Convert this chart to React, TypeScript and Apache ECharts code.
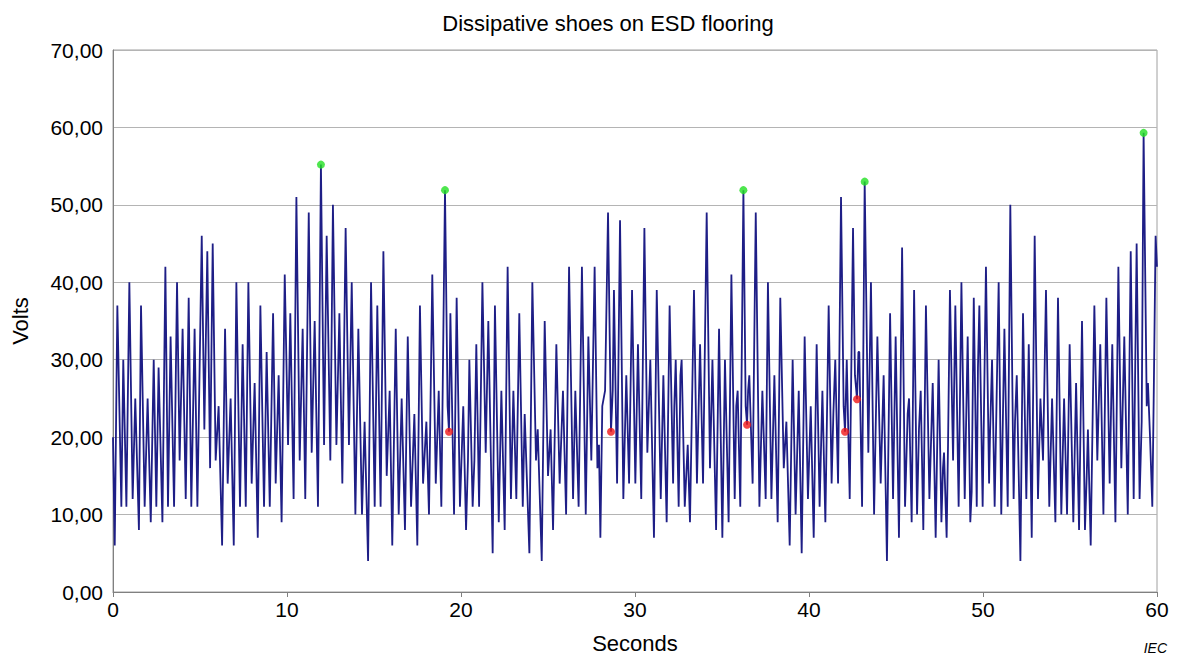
import React, { useEffect, useRef } from "react";
import * as echarts from "echarts";

// Seconds / volts in 5-second pieces
const t00 = [0.00,0.10,0.25,0.48,0.59,0.77,0.94,1.13,1.28,1.49,1.61,1.82,1.99,2.17,2.34,2.49,2.62,2.84,3.01,3.16,3.31,3.51,3.68,3.83,4.00,4.18,4.35,4.50,4.69,4.85];
const v00 = [20,6,37,11,30,11,40,12,25,8,37,11,25,9,30,11,29,9,42,11,33,11,40,17,34,12,38,11,34,11];
const t05 = [5.10,5.25,5.42,5.58,5.73,5.90,6.07,6.27,6.44,6.59,6.76,6.94,7.09,7.30,7.45,7.63,7.78,7.97,8.14,8.32,8.47,8.68,8.83,9.01,9.20,9.35,9.52,9.69,9.87];
const v05 = [46,21,44,16,45,17,24,6,34,14,25,6,40,11,32,11,40,14,27,7,37,11,31,11,36,14,28,9,41];
const t10 = [10.06,10.19,10.38,10.54,10.73,10.90,11.05,11.25,11.42,11.59,11.78,11.95,12.13,12.28,12.49,12.64,12.84,13.01,13.18,13.37,13.56,13.72,13.93,14.10,14.31,14.46,14.66];
const v10 = [19,36,12,51,17,34,12,49,18,35,11,55.2,19,46,17,50,19,36,14,47,19,40,10,34,10,22,4];
const t15 = [14.83,15.04,15.19,15.38,15.54,15.73,15.90,16.05,16.25,16.42,16.59,16.78,16.94,17.13,17.32,17.49,17.64,17.82,18.01,18.16,18.35,18.55,18.72,18.87,19.08,19.23,19.31,19.39,19.60,19.75];
const v15 = [40,11,37,11,44,15,26,6,34,10,25,8,33,11,23,6,37,14,22,10,41,14,26,11,51.9,24,20.7,36,10,38];
const t20 = [19.94,20.13,20.29,20.40,20.48,20.67,20.77,20.88,21.04,21.13,21.23,21.42,21.57,21.82,21.95,22.17,22.32,22.51,22.68,22.87,23.01,23.18,23.35,23.55,23.66,23.93,24.10,24.31,24.41,24.64,24.81];
const v20 = [11,24,8,17,30,11,17,32,11,24,40,18,35,5,37,9,26,8,42,12,26,12,36,11,23,5,40,17,21,4,35];
const t25 = [25.00,25.15,25.29,25.48,25.67,25.86,26.04,26.21,26.44,26.57,26.76,26.95,27.17,27.32,27.49,27.68,27.84,27.93,28.01,28.12,28.28,28.45,28.62,28.72,28.79,28.97,29.14,29.33,29.50,29.66,29.83];
const v25 = [15,21,8,32,14,26,10,42,12,26,11,42,10,33,17,42,16,19,7,24,26,49,20.7,26,39,14,48,12,28,14,39];
const t30 = [30.02,30.17,30.36,30.54,30.71,30.88,31.09,31.25,31.48,31.63,31.82,31.99,32.19,32.26,32.34,32.51,32.61,32.68,32.86,33.03,33.16,33.39,33.56,33.74,33.91,34.12,34.31,34.45,34.66,34.83];
const v30 = [14,32,12,47,18,30,7,39,12,28,9,37,14,24,30,11,28,30,11,19,9,39,14,32,14,49,16,30,8,34];
const t35 = [35.02,35.17,35.38,35.54,35.73,35.82,35.90,36.05,36.23,36.36,36.44,36.50,36.57,36.76,36.94,37.15,37.32,37.51,37.64,37.84,38.01,38.20,38.35,38.55,38.70,38.89,39.06,39.23,39.41,39.58,39.75];
const v35 = [7,30,9,41,12,24,26,11,51.9,24,21.6,26,28,14,49,11,26,12,40,12,28,9,38,16,22,6,30,10,26,5,33];
const t40 = [39.94,40.10,40.27,40.44,40.61,40.77,40.94,41.13,41.30,41.40,41.51,41.67,41.84,41.99,42.07,42.17,42.34,42.53,42.64,42.76,42.84,42.89,43.05,43.20,43.41,43.56,43.74,43.93,44.12,44.29,44.48,44.66,44.83,44.98];
const v40 = [12,24,7,32,11,26,9,37,14,23,30,14,51,24,20.7,30,12,47,28,24.9,31,31,11,53,18,40,10,33,14,28,4,36,12,33];
const t45 = [45.17,45.35,45.52,45.67,45.75,45.90,46.04,46.21,46.32,46.42,46.57,46.72,46.92,47.11,47.28,47.45,47.61,47.70,47.76,47.91,47.99,48.10,48.28,48.41,48.60,48.76,48.95,49.12,49.27,49.35,49.47,49.64,49.71,49.79];
const v45 = [7,44.5,11,23,25,9,39,10,21,26,8,37,12,27,7,30,9,16,18,7,19,39,17,37,11,40,12,33,9,13,38,11,29,37];
const t50 = [49.98,50.17,50.35,50.40,50.52,50.67,50.75,50.90,51.05,51.23,51.42,51.57,51.76,51.84,51.94,52.15,52.30,52.49,52.63,52.80,52.97,53.16,53.30,53.45,53.62,53.81,53.97,54.16,54.31,54.50,54.66,54.83];
const v50 = [11,42,14,20,30,11,21,40,10,34,11,50,12,22,28,4,36,12,32,7,46,12,25,17,39,11,25,9,38,10,25,10];
const t55 = [54.98,55.19,55.35,55.52,55.69,55.86,55.96,56.03,56.19,56.40,56.57,56.74,56.92,57.09,57.28,57.43,57.61,57.78,57.95,58.12,58.32,58.49,58.66,58.83,59.00,59.12,59.23,59.41,59.48,59.60,59.73,59.81,59.92,60.00];
const v55 = [32,9,27,8,35,8,15,21,6,37,17,32,10,38,14,32,9,42,16,33,10,44,12,45,12,22,59.3,24,27,20,11,25,46,42];

// Highlighted points
const greenSeconds = [11.95, 19.08, 36.23, 43.20, 59.23];
const greenVolts = [55.2, 51.9, 51.9, 53.0, 59.3];
const redSeconds = [19.31, 28.62, 36.44, 42.07, 42.76];
const redVolts = [20.7, 20.7, 21.6, 20.7, 24.9];

const xTicks = [0, 10, 20, 30, 40, 50, 60];
const yTicks = [0, 10, 20, 30, 40, 50, 60, 70];

const FONT = "Liberation Sans, Arial, sans-serif";

export default function App() {
  const ref = useRef<HTMLDivElement>(null);
  useEffect(() => {
    document.body.style.margin = "0";
    if (!ref.current) return;
    const chart = echarts.init(ref.current, null, { renderer: "svg" });
    const allT = [...t00, ...t05, ...t10, ...t15, ...t20, ...t25, ...t30, ...t35, ...t40, ...t45, ...t50, ...t55];
    const allV = [...v00, ...v05, ...v10, ...v15, ...v20, ...v25, ...v30, ...v35, ...v40, ...v45, ...v50, ...v55];
    const lineData = allT.map((t, i) => [t, allV[i]]);
    const green = greenSeconds.map((t, i) => [t, greenVolts[i]]);
    const red = redSeconds.map((t, i) => [t, redVolts[i]]);
    chart.setOption({
      animation: false,
      backgroundColor: "#ffffff",
      textStyle: { fontFamily: FONT },
      title: {
        text: "Dissipative shoes on ESD flooring",
        left: 603,
        textAlign: "center",
        top: 7,
        textStyle: { fontSize: 22, fontWeight: "normal", color: "#000", fontFamily: FONT },
      },
      grid: {
        left: 113,
        right: 21,
        top: 50,
        bottom: 69,
        show: true,
        borderColor: "#a0a0a0",
        borderWidth: 1,
      },
      xAxis: {
        type: "value",
        min: xTicks[0],
        max: xTicks[xTicks.length - 1],
        interval: 10,
        name: "Seconds",
        nameLocation: "middle",
        nameGap: 40,
        nameTextStyle: { fontSize: 22, color: "#000", fontFamily: FONT },
        axisLine: { show: true, lineStyle: { color: "#808080", width: 1 } },
        axisTick: { show: true, length: 5, lineStyle: { color: "#808080" } },
        axisLabel: { fontSize: 21, color: "#000", margin: 7, fontFamily: FONT },
        splitLine: { show: false },
      },
      yAxis: {
        type: "value",
        min: yTicks[0],
        max: yTicks[yTicks.length - 1],
        interval: 10,
        name: "Volts",
        nameLocation: "middle",
        nameGap: 82,
        nameTextStyle: { fontSize: 22, color: "#000", fontFamily: FONT },
        axisLine: { show: true, lineStyle: { color: "#808080", width: 1 } },
        axisTick: { show: false },
        axisLabel: {
          fontSize: 21,
          color: "#000",
          margin: 10,
          fontFamily: FONT,
          formatter: (v: number) => v.toFixed(2).replace(".", ","),
        },
        splitLine: { show: true, lineStyle: { color: "#b4b4b4", width: 1 } },
      },
      series: [
        {
          type: "line",
          data: lineData,
          showSymbol: false,
          symbol: "none",
          lineStyle: { color: "#1e1e86", width: 1.8 },
          z: 2,
        },
        {
          type: "scatter",
          data: green,
          symbolSize: 8,
          itemStyle: { color: "#22e022" },
          z: 3,
        },
        {
          type: "scatter",
          data: red,
          symbolSize: 8,
          itemStyle: { color: "#f01818" },
          z: 3,
        },
      ],
      graphic: [
        {
          type: "text",
          right: 11,
          top: 641,
          style: { text: "IEC", fontSize: 14, fontStyle: "italic", fill: "#000", fontFamily: FONT },
        },
      ],
    });
    return () => chart.dispose();
  }, []);
  return <div ref={ref} style={{ width: 1178, height: 661 }} />;
}
